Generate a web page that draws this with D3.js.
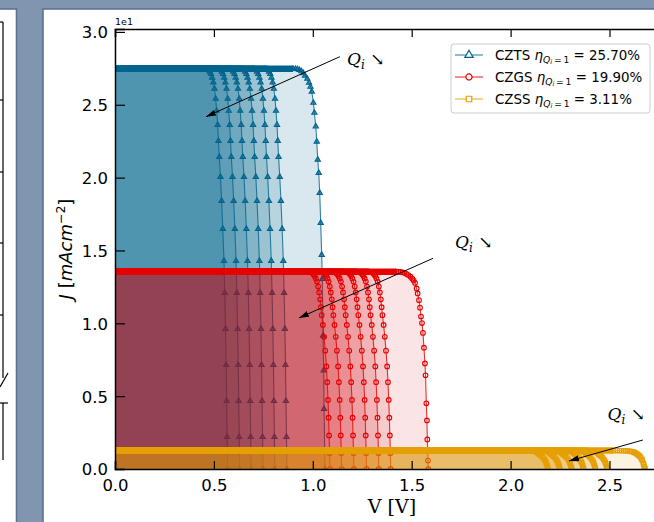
<!DOCTYPE html>
<html><head><meta charset="utf-8">
<script src="https://cdn.jsdelivr.net/npm/d3@7"></script>
<style>body{margin:0;background:#8095b0;} svg{display:block}</style>
</head><body><svg id="c" width="654" height="522"></svg>
<script>
// ---------------- data ----------------
const materials = ["CZTS", "CZGS", "CZSS"];
const etaLabels = ["25.70%", "19.90%", "3.11%"];
const jscValues = [2.747, 1.354, 0.127];           // in units of 1e1 mA/cm^2
const vocCZTS = [0.569, 0.630, 0.688, 0.748, 0.808, 0.869, 1.062];
const vocCZGS = [1.087, 1.146, 1.208, 1.272, 1.334, 1.394, 1.584];
const vocCZSS = [2.189, 2.249, 2.309, 2.369, 2.429, 2.489, 2.680];
// knee shape: V offset from Voc, J as fraction of Jsc
const innerDV = [-0.111,-0.104,-0.097,-0.090,-0.084,-0.078,-0.072,-0.066,-0.060,-0.055,-0.050,-0.046,-0.042,-0.036,-0.030,-0.024,-0.018,-0.014,-0.010,-0.007,-0.0045,-0.002,0];
const innerJ  = [1.000,0.999,0.997,0.993,0.987,0.978,0.966,0.950,0.925,0.895,0.860,0.820,0.780,0.730,0.670,0.600,0.520,0.440,0.350,0.260,0.170,0.080,0];
const outerDV = [-0.162,-0.150,-0.140,-0.130,-0.120,-0.110,-0.101,-0.090,-0.081,-0.074,-0.067,-0.059,-0.054,-0.047,-0.042,-0.037,-0.032,-0.027,-0.022,-0.017,-0.014,-0.010,-0.007,-0.005,-0.0015,0];
const outerJ  = [1.000,0.9995,0.999,0.997,0.994,0.989,0.983,0.975,0.965,0.955,0.943,0.915,0.890,0.856,0.818,0.773,0.740,0.690,0.615,0.535,0.475,0.333,0.246,0.150,0.043,0];
const xTicks = [0, 0.5, 1.0, 1.5, 2.0, 2.5];
const yTicks = [0, 0.5, 1.0, 1.5, 2.0, 2.5, 3.0];
// annotations (data coords): label anchor, arrow tail, arrow head
const annLabel = [[1.173, 2.77], [1.719, 1.518], [2.49, 0.337]];
const annTail  = [[1.137, 2.83], [1.608, 1.446], [2.669, 0.199]];
const annHead  = [[0.460, 2.418], [0.930, 1.037], [2.295, 0.055]];

// ---------------- styles ----------------
const colors = ["#00648f", "#e60000", "#e69f00"];
const fillColors = ["#00648f", "#d4000e", "#e0980a"];
const fillAlpha = [0.15, 0.105, 0.125];
const symbols = [d3.symbolTriangle, d3.symbolCircle, d3.symbolSquare];
const symSize = [12, 17, 18];
const vocs = [vocCZTS, vocCZGS, vocCZSS];

const W = 654, H = 522;
const svg = d3.select("#c");
svg.append("rect").attr("width", W).attr("height", H).attr("fill", "#8095b0");

// left (cut) panel
svg.append("rect").attr("x", -5).attr("y", 9).attr("width", 21.5).attr("height", H)
  .attr("fill", "#fff").attr("stroke", "#5f7391").attr("stroke-width", 1.6);
const lp = svg.append("g").attr("stroke", "#000").attr("stroke-width", 1.2).attr("fill", "none");
lp.append("line").attr("x1", 3).attr("x2", 3).attr("y1", 22).attr("y2", 378);
[22, 100, 172, 243, 315].forEach(t => lp.append("line").attr("x1", 0).attr("x2", 3).attr("y1", t).attr("y2", t));
lp.append("line").attr("x1", 0).attr("x2", 8).attr("y1", 387).attr("y2", 373);
lp.append("line").attr("x1", 0).attr("x2", 8).attr("y1", 403).attr("y2", 403);
lp.append("line").attr("x1", 3).attr("x2", 3).attr("y1", 403).attr("y2", 460);

// main panel
svg.append("rect").attr("x", 43).attr("y", 9).attr("width", W).attr("height", H)
  .attr("fill", "#fff").attr("stroke", "#5f7391").attr("stroke-width", 1.6);

const x = d3.scaleLinear().domain([0, 2.8]).range([115, 115 + 2.8 * 197.8]);
const y = d3.scaleLinear().domain([0, 3.02]).range([469, 29]);

svg.append("defs").append("clipPath").attr("id", "plot")
  .append("rect").attr("x", x(0)).attr("y", y(3.02)).attr("width", x(2.8) - x(0)).attr("height", y(0) - y(3.02));

const plot = svg.append("g").attr("clip-path", "url(#plot)");

materials.forEach((m, mi) => {
  const jsc = jscValues[mi];
  const curves = vocs[mi].map((voc, k) => {
    const outer = k === vocs[mi].length - 1;
    const dv = outer ? outerDV : innerDV, jf = outer ? outerJ : innerJ;
    return dv.map((d, i) => [voc + d, jf[i] * jsc]);
  });
  const area = d3.area().x(d => x(d[0])).y0(y(0)).y1(d => y(d[1]));
  const line = d3.line().x(d => x(d[0])).y(d => y(d[1]));
  curves.forEach(pts => {
    plot.append("path").datum([[0, jsc]].concat(pts)).attr("d", area)
      .attr("fill", fillColors[mi]).attr("fill-opacity", fillAlpha[mi]);
  });
  curves.forEach(pts => {
    plot.append("path").datum([[0, jsc]].concat(pts)).attr("d", line)
      .attr("fill", "none").attr("stroke", colors[mi]).attr("stroke-width", 1.1).attr("stroke-opacity", 0.8);
    plot.append("path").datum([[0, jsc], pts[0]]).attr("d", line)
      .attr("fill", "none").attr("stroke", colors[mi]).attr("stroke-width", 6.5);
    plot.selectAll(null).data(pts).enter().append("path")
      .attr("transform", d => `translate(${x(d[0])},${y(d[1])})`)
      .attr("d", d3.symbol().type(symbols[mi]).size(symSize[mi]))
      .attr("fill", mi === 0 ? colors[mi] : "none").attr("fill-opacity", 0.6)
      .attr("stroke", colors[mi]).attr("stroke-width", 1.1);
  });
});

// axes
const fmt = d3.format(".1f");
const axB = svg.append("g").attr("transform", `translate(0,${y(0)})`)
  .call(d3.axisBottom(x).tickValues(xTicks).tickFormat(fmt).tickSize(-8).tickPadding(10));
const axT = svg.append("g").attr("transform", `translate(0,${y(3.02)})`)
  .call(d3.axisTop(x).tickValues(xTicks).tickFormat("").tickSize(-8));
const axL = svg.append("g").attr("transform", `translate(${x(0)},0)`)
  .call(d3.axisLeft(y).tickValues(yTicks).tickFormat(fmt).tickSize(-10).tickPadding(7));
[axB, axT, axL].forEach(a => {
  a.select(".domain").attr("stroke", "#000").attr("stroke-width", 1.5);
  a.selectAll(".tick line").attr("stroke", "#000").attr("stroke-width", 1.2);
  a.selectAll("text").attr("font-family", "DejaVu Sans").attr("font-size", 16.5).attr("fill", "#000");
});
axL.selectAll("text").attr("dy", "0.36em");

svg.append("text").attr("x", 115).attr("y", 25).attr("font-family", "DejaVu Sans").attr("font-size", 9.5).text("1e1");

// axis labels
svg.append("text").attr("x", 392).attr("y", 513).attr("text-anchor", "middle")
  .attr("font-family", "DejaVu Serif").attr("font-size", 19).text("V [V]");
const yl = svg.append("text").attr("transform", "translate(72,249) rotate(-90)").attr("text-anchor", "middle")
  .attr("font-family", "DejaVu Sans").attr("font-size", 18);
yl.append("tspan").attr("font-style", "italic").text("J");
yl.append("tspan").text(" [");
yl.append("tspan").attr("font-style", "italic").text("mAcm");
yl.append("tspan").attr("font-size", 12.5).attr("dy", -7).text("\u22122");
yl.append("tspan").attr("dy", 7).text("]");

// annotations
const defs = svg.select("defs");
defs.append("marker").attr("id", "ah").attr("viewBox", "0 0 10 6").attr("refX", 10).attr("refY", 3)
  .attr("markerWidth", 10).attr("markerHeight", 6).attr("markerUnits", "userSpaceOnUse").attr("orient", "auto")
  .append("path").attr("d", "M0,0 L10,3 L0,6 Z").attr("fill", "#000");
annLabel.forEach((p, i) => {
  const t = svg.append("text").attr("x", x(p[0])).attr("y", y(p[1]))
    .attr("font-family", "DejaVu Serif").attr("font-size", 17);
  t.append("tspan").attr("font-style", "italic").text("Q");
  t.append("tspan").attr("font-style", "italic").attr("font-size", 12).attr("dy", 4).text("i");
  t.append("tspan").attr("dy", -4).text(" \u2198");
  svg.append("line").attr("x1", x(annTail[i][0])).attr("y1", y(annTail[i][1]))
    .attr("x2", x(annHead[i][0])).attr("y2", y(annHead[i][1]))
    .attr("stroke", "#000").attr("stroke-width", 1).attr("marker-end", "url(#ah)");
});

// legend
const lg = svg.append("g");
lg.append("rect").attr("x", 451).attr("y", 44).attr("width", 199).attr("height", 69).attr("rx", 3)
  .attr("fill", "#fff").attr("fill-opacity", 0.8).attr("stroke", "#cccccc");
materials.forEach((m, mi) => {
  const cy = 55 + mi * 22;
  lg.append("line").attr("x1", 455).attr("x2", 483).attr("y1", cy).attr("y2", cy)
    .attr("stroke", colors[mi]).attr("stroke-opacity", 0.6).attr("stroke-width", 1.5);
  lg.append("path").attr("transform", `translate(469,${cy})`)
    .attr("d", d3.symbol().type(symbols[mi]).size(30))
    .attr("fill", "#fff").attr("stroke", colors[mi]).attr("stroke-width", 1.2);
  const t = lg.append("text").attr("x", 495).attr("y", cy + 4.5)
    .attr("font-family", "DejaVu Sans").attr("font-size", 13.4);
  t.append("tspan").text(m + " ");
  t.append("tspan").attr("font-style", "italic").text("\u03b7");
  t.append("tspan").attr("font-style", "italic").attr("font-size", 9.2).attr("dy", 3).text("Q");
  t.append("tspan").attr("font-style", "italic").attr("font-size", 6.6).attr("dy", 1.5).text("i");
  t.append("tspan").attr("font-size", 9.2).attr("dy", -1.5).text("\u2009=\u20091");
  t.append("tspan").attr("dy", -3).text(" = " + etaLabels[mi]);
});
</script></body></html>
